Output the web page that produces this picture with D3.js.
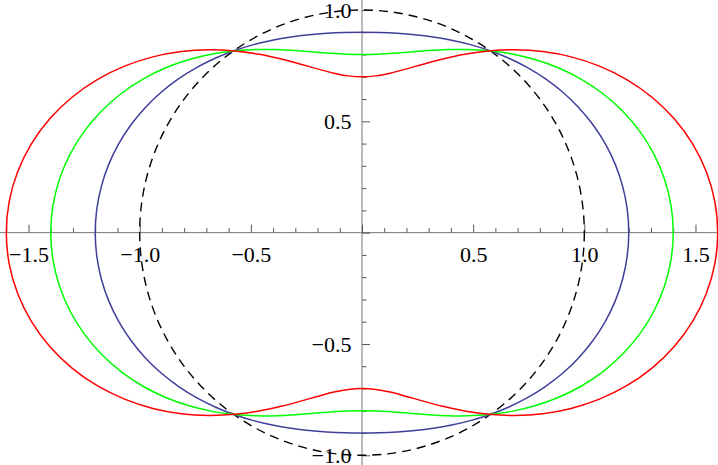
<!DOCTYPE html>
<html>
<head>
<meta charset="utf-8">
<script src="https://cdn.jsdelivr.net/npm/d3@7"></script>
<style>
  html, body { margin: 0; padding: 0; background: #fff; }
  svg { display: block; }
</style>
</head>
<body>
<svg id="chart" width="718" height="465"></svg>
<script>
// ---- data (polar radius read at each angle of the first quadrant; curves are symmetric) ----
const anglesDeg = [0, 5, 10, 15, 20, 25, 30, 35, 40, 45, 50, 55, 60, 65, 70, 75, 80, 85, 90];
const radiusBlue  = [1.2, 1.1977, 1.1909, 1.1799, 1.1649, 1.1464, 1.125, 1.1013, 1.0760, 1.05, 1.0240, 0.9987, 0.975, 0.9536, 0.9351, 0.9201, 0.9090, 0.9023, 0.9];
const radiusGreen = [1.4, 1.3954, 1.3819, 1.3598, 1.3298, 1.2928, 1.25, 1.2026, 1.1521, 1.1, 1.0479, 0.9974, 0.95, 0.9072, 0.8702, 0.8402, 0.8181, 0.8046, 0.8];
const radiusRed   = [1.6, 1.5932, 1.5728, 1.5397, 1.4947, 1.4393, 1.375, 1.3039, 1.2281, 1.15, 1.0719, 0.9961, 0.925, 0.8607, 0.8053, 0.7603, 0.7271, 0.7068, 0.7];
const circleRadius = 1;

const xMajorTicks = [-1.5, -1.0, -0.5, 0, 0.5, 1.0, 1.5];
const yMajorTicks = [-1.0, -0.5, 0, 0.5, 1.0];
const xMinorTicks = [-1.6,-1.4,-1.3,-1.2,-1.1,-0.9,-0.8,-0.7,-0.6,-0.4,-0.3,-0.2,-0.1,0.1,0.2,0.3,0.4,0.6,0.7,0.8,0.9,1.1,1.2,1.3,1.4,1.6];
const yMinorTicks = [-0.9,-0.8,-0.7,-0.6,-0.4,-0.3,-0.2,-0.1,0.1,0.2,0.3,0.4,0.6,0.7,0.8,0.9];
const xTickLabels = ["−1.5", "−1.0", "−0.5", "", "0.5", "1.0", "1.5"];
const yTickLabels = ["−1.0", "−0.5", "", "0.5", "1.0"];

const series = [
  { name: "blue",  radius: radiusBlue,  color: "#3f3f9b" },
  { name: "green", radius: radiusGreen, color: "#00ff00" },
  { name: "red",   radius: radiusRed,   color: "#ff0000" }
];

// ---- layout ----
const W = 718, H = 465;
const svg = d3.select("#chart");
const x = d3.scaleLinear().domain([-1.6, 1.6]).range([6.3, 717.7]);
const y = d3.scaleLinear().domain([-1, 1]).range([455.3, 10]);
const axisColor = "#777";
const font = "'Liberation Serif', 'Times New Roman', serif";

// axis lines spanning the whole picture
svg.append("line").attr("x1", 0).attr("x2", W).attr("y1", y(0)).attr("y2", y(0))
  .attr("stroke", axisColor).attr("stroke-width", 1);
svg.append("line").attr("x1", x(0)).attr("x2", x(0)).attr("y1", 0).attr("y2", H)
  .attr("stroke", axisColor).attr("stroke-width", 1);

function styleAxis(g) {
  g.select(".domain").remove();
  g.selectAll(".tick line").attr("stroke", "#555").attr("stroke-width", 1);
  g.selectAll(".tick text").attr("fill", "#000").style("font-family", font).style("font-size", "22px");
}

// x axis: ticks point up, labels below
svg.append("g").attr("transform", `translate(0,${y(0)})`)
  .call(d3.axisBottom(x).tickValues(xMinorTicks).tickSizeInner(-4.5).tickSizeOuter(0).tickFormat(""))
  .call(styleAxis);
svg.append("g").attr("transform", `translate(0,${y(0)})`)
  .call(d3.axisBottom(x).tickValues(xMajorTicks).tickSizeInner(-8).tickSizeOuter(0).tickPadding(14)
    .tickFormat((d, i) => xTickLabels[i]))
  .call(styleAxis);

// y axis: ticks point right, labels left
svg.append("g").attr("transform", `translate(${x(0)},0)`)
  .call(d3.axisLeft(y).tickValues(yMinorTicks).tickSizeInner(-4.5).tickSizeOuter(0).tickFormat(""))
  .call(styleAxis);
svg.append("g").attr("transform", `translate(${x(0)},0)`)
  .call(d3.axisLeft(y).tickValues(yMajorTicks).tickSizeInner(-8).tickSizeOuter(0).tickPadding(10.5)
    .tickFormat((d, i) => yTickLabels[i]))
  .call(styleAxis);

// ---- curves ----
function fullCurve(radius) {
  const pts = [];
  const n = anglesDeg.length;
  for (let i = 0; i < n; i++) pts.push([anglesDeg[i], radius[i]]);
  for (let i = n - 2; i >= 0; i--) pts.push([180 - anglesDeg[i], radius[i]]);
  for (let i = 1; i < n; i++) pts.push([180 + anglesDeg[i], radius[i]]);
  for (let i = n - 2; i >= 1; i--) pts.push([360 - anglesDeg[i], radius[i]]);
  return pts.map(([a, r]) => {
    const t = a * Math.PI / 180;
    return [r * Math.cos(t), r * Math.sin(t)];
  });
}

const line = d3.line()
  .x(d => x(d[0]))
  .y(d => y(d[1]))
  .curve(d3.curveCatmullRomClosed.alpha(0.5));

// dashed unit circle
svg.append("ellipse")
  .attr("cx", x(0)).attr("cy", y(0))
  .attr("rx", x(circleRadius) - x(0)).attr("ry", y(0) - y(circleRadius))
  .attr("fill", "none").attr("stroke", "#000").attr("stroke-width", 1.4)
  .attr("stroke-dasharray", "9,6");

svg.selectAll("path.curve").data(series).enter().append("path")
  .attr("class", "curve")
  .attr("d", d => line(fullCurve(d.radius)))
  .attr("fill", "none")
  .attr("stroke", d => d.color)
  .attr("stroke-width", 1.5);
</script>
</body>
</html>
